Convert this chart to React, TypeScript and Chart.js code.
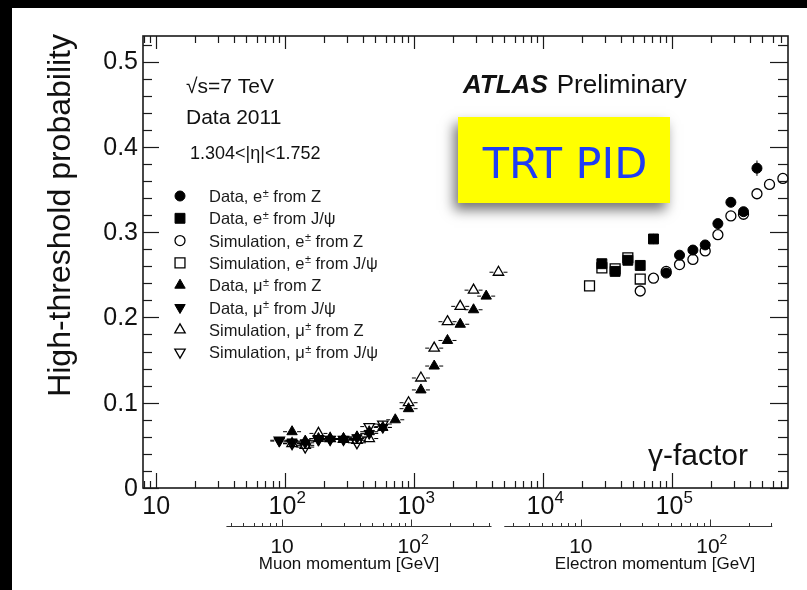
import React, { useEffect, useRef } from 'react';
import { Chart, registerables } from 'chart.js';
import { drawPoint } from 'chart.js/helpers';

Chart.register(...registerables);

const FONT = '"Liberation Sans", Arial, Helvetica, sans-serif';

// ---------- data (x = Lorentz gamma factor, y = high-threshold probability) ----------
const dataEZ_x = [89800, 114000, 144700, 180200, 226000, 285000, 357000, 454000];
const dataEZ_y = [0.252, 0.273, 0.279, 0.285, 0.310, 0.335, 0.324, 0.375];
const dataEZ_err = [0.003, 0.003, 0.003, 0.003, 0.004, 0.004, 0.004, 0.009];

const dataEJpsi_x = [28500, 36100, 45300, 56500, 71600];
const dataEJpsi_y = [0.263, 0.254, 0.267, 0.261, 0.292];
const dataEJpsi_err = [0.005, 0.003, 0.003, 0.003, 0.006];

const simEZ_x = [56500, 71600, 89800, 114000, 144700, 180200, 226000, 285000, 357000, 454000, 568000, 721000];
const simEZ_y = [0.231, 0.246, 0.254, 0.262, 0.268, 0.278, 0.297, 0.319, 0.321, 0.345, 0.356, 0.363];

const simEJpsi_x = [22860, 28500, 36100, 45300, 56500];
const simEJpsi_y = [0.237, 0.258, 0.257, 0.270, 0.245];

const dataMuZ_x = [113, 143, 181, 223, 283, 360, 448, 571, 713, 904, 1127, 1429, 1811, 2274, 2884, 3615];
const dataMuZ_y = [0.066, 0.055, 0.058, 0.058, 0.058, 0.060, 0.066, 0.071, 0.080, 0.093, 0.115, 0.143, 0.173, 0.192, 0.209, 0.225];

const dataMuJpsi_x = [90, 113, 143, 181, 223, 283, 360, 448, 571];
const dataMuJpsi_y = [0.055, 0.054, 0.053, 0.056, 0.057, 0.057, 0.059, 0.064, 0.071];

const simMuZ_x = [113, 143, 181, 223, 283, 360, 448, 904, 1127, 1429, 1811, 2274, 2884, 4500];
const simMuZ_y = [0.052, 0.050, 0.064, 0.058, 0.057, 0.056, 0.058, 0.100, 0.129, 0.164, 0.195, 0.213, 0.232, 0.253];

const simMuJpsi_x = [90, 113, 143, 181, 223, 283, 360, 448, 571];
const simMuJpsi_y = [0.056, 0.052, 0.048, 0.058, 0.057, 0.057, 0.053, 0.072, 0.075];

// ---------- axes ----------
const X_MIN = 7.9;
const X_MAX = 790000;
const Y_MIN = 0;
const Y_MAX = 0.53;
const yTickValues = [0, 0.1, 0.2, 0.3, 0.4, 0.5];
const yTickLabels = ['0', '0.1', '0.2', '0.3', '0.4', '0.5'];
const xDecades = [10, 100, 1000, 10000, 100000];
const xDecadeExp = ['', '2', '3', '4', '5'];

const MUON_MASS = 0.10566; // GeV
const ELECTRON_MASS = 0.000511; // GeV
const muonP_range = [3.7, 420];
const electronP_range = [2.55, 305];
const momentumMajor = [10, 100];
const momentumMajorExp = ['', '2'];

const legendLabels: [string, string, string][] = [
  ['Data, e', '±', ' from Z'],
  ['Data, e', '±', ' from J/ψ'],
  ['Simulation, e', '±', ' from Z'],
  ['Simulation, e', '±', ' from J/ψ'],
  ['Data, μ', '±', ' from Z'],
  ['Data, μ', '±', ' from J/ψ'],
  ['Simulation, μ', '±', ' from Z'],
  ['Simulation, μ', '±', ' from J/ψ'],
];

const pts = (xs: number[], ys: number[]) => xs.map((x, i) => ({ x, y: ys[i] }));

function textSup(ctx: CanvasRenderingContext2D, x: number, y: number, base: string, sup: string, bs: number, ss: number, align: 'left' | 'center' | 'right', raise: number) {
  ctx.font = `${bs}px ${FONT}`;
  const wb = ctx.measureText(base).width;
  ctx.font = `${ss}px ${FONT}`;
  const ws = sup ? ctx.measureText(sup).width : 0;
  const tot = wb + ws;
  const x0 = align === 'center' ? x - tot / 2 : align === 'right' ? x - tot : x;
  ctx.textAlign = 'left';
  ctx.textBaseline = 'alphabetic';
  ctx.font = `${bs}px ${FONT}`;
  ctx.fillText(base, x0, y);
  if (sup) {
    ctx.font = `${ss}px ${FONT}`;
    ctx.fillText(sup, x0 + wb, y - raise);
  }
}

function line(ctx: CanvasRenderingContext2D, x1: number, y1: number, x2: number, y2: number) {
  ctx.beginPath();
  ctx.moveTo(x1, y1);
  ctx.lineTo(x2, y2);
  ctx.stroke();
}

const atlasPlugin = {
  id: 'atlasDecor',
  beforeDraw(chart: any) {
    const { ctx, width, height } = chart;
    ctx.save();
    ctx.fillStyle = '#ffffff';
    ctx.fillRect(0, 0, width, height);
    ctx.fillStyle = '#000000';
    ctx.fillRect(0, 0, width, 8);
    ctx.fillRect(0, 0, 12, height);
    ctx.restore();
  },
  beforeDatasetsDraw(chart: any) {
    const { ctx } = chart;
    const xs = chart.scales.x, ys = chart.scales.y;
    ctx.save();
    ctx.strokeStyle = '#000';
    ctx.lineWidth = 1;
    chart.data.datasets.forEach((ds: any) => {
      if (ds.yErr) {
        ds.data.forEach((p: any, i: number) => {
          const px = xs.getPixelForValue(p.x);
          line(ctx, px, ys.getPixelForValue(p.y - ds.yErr[i]), px, ys.getPixelForValue(p.y + ds.yErr[i]));
        });
      }
      if (ds.hDash) {
        ds.data.forEach((p: any) => {
          const px = xs.getPixelForValue(p.x);
          const py = ys.getPixelForValue(p.y);
          line(ctx, px - 9, py, px - 5, py);
          line(ctx, px + 5, py, px + 9, py);
        });
      }
    });
    ctx.restore();
  },
  afterDraw(chart: any) {
    const { ctx } = chart;
    const xs = chart.scales.x, ys = chart.scales.y;
    const { left, right, top, bottom } = chart.chartArea;
    ctx.save();
    ctx.strokeStyle = '#1a1a1a';
    ctx.fillStyle = '#111';

    // frame
    ctx.lineWidth = 1.6;
    ctx.strokeRect(left, top, right - left, bottom - top);

    // x ticks (bottom and top, inside)
    ctx.lineWidth = 1.2;
    for (let d = 0; d <= 6; d++) {
      for (let k = 1; k <= 9; k++) {
        const v = k * Math.pow(10, d);
        if (v < X_MIN || v > X_MAX) continue;
        const px = Math.round(xs.getPixelForValue(v)) + 0.5;
        line(ctx, px, bottom, px, bottom - (k === 1 ? 15 : 7));
        line(ctx, px, top, px, top + (k === 1 ? 13 : 7));
      }
    }
    // y ticks (left and right, inside)
    for (let i = 0; i <= 26; i++) {
      const v = i * 0.02;
      if (v > Y_MAX) continue;
      const py = Math.round(ys.getPixelForValue(v)) + 0.5;
      const major = i % 5 === 0;
      line(ctx, left, py, left + (major ? 16 : 9), py);
      line(ctx, right, py, right - (major ? 18 : 10), py);
    }

    // y tick labels
    ctx.fillStyle = '#111';
    ctx.font = `25px ${FONT}`;
    ctx.textAlign = 'right';
    ctx.textBaseline = 'middle';
    yTickValues.forEach((v, i) => {
      ctx.fillText(yTickLabels[i], 138, ys.getPixelForValue(v) + 1);
    });
    // x tick labels
    xDecades.forEach((v, i) => {
      textSup(ctx, xs.getPixelForValue(v) + (xDecadeExp[i] ? 2 : 0), 514, '10', xDecadeExp[i], 25, 17, 'center', 11);
    });

    // y axis title
    ctx.save();
    ctx.translate(70, 34);
    ctx.rotate(-Math.PI / 2);
    ctx.font = `32px ${FONT}`;
    ctx.textAlign = 'right';
    ctx.textBaseline = 'alphabetic';
    ctx.fillStyle = '#111';
    ctx.fillText('High-threshold probability', 0, 0);
    ctx.restore();

    // secondary momentum axes
    const secAxis = (mass: number, range: number[], title: string, titleX: number) => {
      const g = (p: number) => xs.getPixelForValue(p / mass);
      const yA = 526.5;
      ctx.lineWidth = 1;
      ctx.strokeStyle = '#333';
      line(ctx, g(range[0]), yA, g(range[1]), yA);
      for (let d = 0; d <= 3; d++) {
        for (let k = 1; k <= 9; k++) {
          const p = k * Math.pow(10, d);
          if (p < range[0] || p > range[1]) continue;
          const px = Math.round(g(p)) + 0.5;
          line(ctx, px, yA, px, yA - (k === 1 ? 7 : 3.5));
        }
      }
      ctx.fillStyle = '#111';
      momentumMajor.forEach((p, i) => {
        textSup(ctx, g(p) + (momentumMajorExp[i] ? 2 : 0), 553, '10', momentumMajorExp[i], 21, 14, 'center', 9);
      });
      ctx.font = `17px ${FONT}`;
      ctx.textAlign = 'center';
      ctx.textBaseline = 'alphabetic';
      ctx.fillText(title, titleX, 569);
    };
    secAxis(MUON_MASS, muonP_range, 'Muon momentum [GeV]', 349);
    secAxis(ELECTRON_MASS, electronP_range, 'Electron momentum [GeV]', 655);

    // labels in plot
    ctx.fillStyle = '#111';
    ctx.textAlign = 'left';
    ctx.textBaseline = 'alphabetic';
    ctx.font = `21px ${FONT}`;
    ctx.fillText('√s=7 TeV', 186, 93);
    ctx.fillText('Data 2011', 186, 124);
    ctx.font = `18px ${FONT}`;
    ctx.fillText('1.304<|η|<1.752', 190, 159);

    ctx.font = `italic bold 26px ${FONT}`;
    ctx.fillText('ATLAS', 463, 93);
    const wA = ctx.measureText('ATLAS').width;
    ctx.font = `26px ${FONT}`;
    ctx.fillText('Preliminary', 463 + wA + 9, 93);

    ctx.font = `30px ${FONT}`;
    ctx.fillText('γ-factor', 648, 465);

    // legend
    chart.data.datasets.forEach((ds: any, i: number) => {
      const ly = 196 + i * 22.3;
      ctx.save();
      ctx.fillStyle = ds.backgroundColor;
      ctx.strokeStyle = ds.borderColor;
      ctx.lineWidth = ds.borderWidth;
      drawPoint(ctx, { pointStyle: ds.pointStyle, rotation: ds.rotation || 0, radius: ds.pointRadius, borderWidth: ds.borderWidth }, 180, ly);
      ctx.restore();
      const [a, s, b] = legendLabels[i];
      ctx.fillStyle = '#1a1a1a';
      ctx.font = `16.5px ${FONT}`;
      ctx.textAlign = 'left';
      ctx.textBaseline = 'alphabetic';
      const yb = ly + 6;
      ctx.fillText(a, 209, yb);
      const wa = ctx.measureText(a).width;
      ctx.font = `11px ${FONT}`;
      ctx.fillText(s, 209 + wa + 0.5, yb - 5.5);
      const ws = ctx.measureText(s).width;
      ctx.font = `16.5px ${FONT}`;
      ctx.fillText(b, 209 + wa + ws + 0.5, yb);
    });

    // TRT PID annotation box
    ctx.save();
    ctx.shadowColor = 'rgba(0,0,0,0.55)';
    ctx.shadowBlur = 12;
    ctx.shadowOffsetX = -4;
    ctx.shadowOffsetY = 7;
    ctx.fillStyle = '#ffff00';
    ctx.fillRect(458, 117, 212, 86);
    ctx.restore();
    ctx.fillStyle = '#1e3cf5';
    ctx.font = `43px "DejaVu Sans", ${FONT}`;
    ctx.textAlign = 'center';
    ctx.textBaseline = 'alphabetic';
    ctx.fillText('TRT PID', 565, 178);

    ctx.restore();
  },
};

export default function App() {
  const ref = useRef<HTMLCanvasElement | null>(null);
  useEffect(() => {
    if (!ref.current) return;
    const filled = { backgroundColor: '#000000', borderColor: '#000000', borderWidth: 1 };
    const open = { backgroundColor: 'rgba(255,255,255,0)', borderColor: '#000000', borderWidth: 1.3 };
    const chart = new Chart(ref.current, {
      type: 'scatter',
      data: {
        datasets: [
          { label: 'Data, e± from Z', data: pts(dataEZ_x, dataEZ_y), yErr: dataEZ_err, pointStyle: 'circle', pointRadius: 5, ...filled } as any,
          { label: 'Data, e± from J/ψ', data: pts(dataEJpsi_x, dataEJpsi_y), yErr: dataEJpsi_err, pointStyle: 'rect', pointRadius: 7, ...filled } as any,
          { label: 'Simulation, e± from Z', data: pts(simEZ_x, simEZ_y), pointStyle: 'circle', pointRadius: 5, ...open } as any,
          { label: 'Simulation, e± from J/ψ', data: pts(simEJpsi_x, simEJpsi_y), pointStyle: 'rect', pointRadius: 7, ...open } as any,
          { label: 'Data, μ± from Z', data: pts(dataMuZ_x, dataMuZ_y), hDash: true, pointStyle: 'triangle', rotation: 0, pointRadius: 6, ...filled } as any,
          { label: 'Data, μ± from J/ψ', data: pts(dataMuJpsi_x, dataMuJpsi_y), hDash: true, pointStyle: 'triangle', rotation: 180, pointRadius: 6, ...filled } as any,
          { label: 'Simulation, μ± from Z', data: pts(simMuZ_x, simMuZ_y), hDash: true, pointStyle: 'triangle', rotation: 0, pointRadius: 6, ...open } as any,
          { label: 'Simulation, μ± from J/ψ', data: pts(simMuJpsi_x, simMuJpsi_y), hDash: true, pointStyle: 'triangle', rotation: 180, pointRadius: 6, ...open } as any,
        ],
      },
      options: {
        responsive: false,
        animation: false,
        clip: false as any,
        layout: { padding: { left: 143, top: 36, right: 19, bottom: 102 } },
        plugins: { legend: { display: false }, tooltip: { enabled: false } },
        scales: {
          x: { type: 'logarithmic', min: X_MIN, max: X_MAX, display: false },
          y: { type: 'linear', min: Y_MIN, max: Y_MAX, display: false },
        },
      },
      plugins: [atlasPlugin],
    });
    return () => chart.destroy();
  }, []);
  return (
    <div style={{ position: 'fixed', left: 0, top: 0, width: 807, height: 590 }}>
      <canvas ref={ref} width={807} height={590} style={{ display: 'block' }} />
    </div>
  );
}
